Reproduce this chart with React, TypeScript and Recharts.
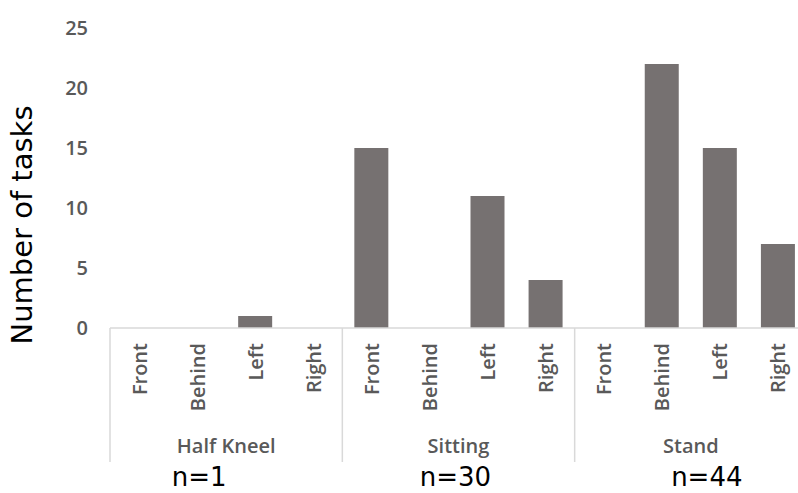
import { BarChart, Bar, XAxis, YAxis } from 'recharts'

const groups = ['Half Kneel', 'Sitting', 'Stand']
const directions = ['Front', 'Behind', 'Left', 'Right']
const halfKneel = [0, 0, 1, 0]
const sitting = [15, 0, 11, 4]
const stand = [0, 22, 15, 7]
const nLabels = ['n=1', 'n=30', 'n=44']
const yTicks = [0, 5, 10, 15, 20, 25]

const seriesByGroup = [halfKneel, sitting, stand]

const data = groups.flatMap((g, gi) =>
  directions.map((d, di) => ({
    key: `${g}-${d}`,
    group: g,
    direction: d,
    tasks: seriesByGroup[gi][di],
  }))
)

// layout
const CHART_W = 810
const CHART_H = 493
const Y_AXIS_W = 110
const RIGHT = 3
const BAND = (CHART_W - Y_AXIS_W - RIGHT) / data.length
const nOffsets = [-27, -3, 16]

const grey = '#595959'
const lineGrey = '#d9d9d9'
const tickFont = "'Open Sans', sans-serif"

function CategoryTick(props: any) {
  const { x, y, payload } = props
  const i: number = payload.index
  const gi = Math.floor(i / directions.length)
  const ty = y + 15
  return (
    <g>
      <text
        x={x}
        y={ty}
        transform={`rotate(-90 ${x} ${ty})`}
        textAnchor="end"
        dominantBaseline="central"
        fill={grey}
        fontSize={20}
        fontWeight={600}
        fontFamily={tickFont}
      >
        {directions[i % directions.length]}
      </text>
      {i % directions.length === 0 && (
        <>
          <line x1={x - BAND / 2} x2={x - BAND / 2} y1={y} y2={y + 134} stroke={lineGrey} strokeWidth={1.5} />
          <text
            x={x + 1.5 * BAND}
            y={453}
            textAnchor="middle"
            fill={grey}
            fontSize={20}
            fontWeight={600}
            fontFamily={tickFont}
          >
            {groups[gi]}
          </text>
          <text
            x={x + 1.5 * BAND + nOffsets[gi]}
            y={486}
            textAnchor="middle"
            fill="#000"
            fontSize={26}
            fontFamily="'DejaVu Sans', Verdana, sans-serif"
          >
            {nLabels[gi]}
          </text>
        </>
      )}
      {i === data.length - 1 && (
        <line x1={x + BAND / 2} x2={x + BAND / 2} y1={y} y2={y + 134} stroke={lineGrey} strokeWidth={1.5} />
      )}
    </g>
  )
}

export default function App() {
  return (
    <div
      style={{
        position: 'fixed',
        left: 0,
        top: 0,
        width: 798,
        height: 493,
        overflow: 'hidden',
        background: '#fff',
      }}
    >
      <BarChart
        width={CHART_W}
        height={CHART_H}
        data={data}
        margin={{ top: 28, right: RIGHT, bottom: 0, left: 0 }}
      >
        <XAxis
          dataKey="key"
          height={165}
          interval={0}
          tickLine={false}
          tickSize={0}
          tickMargin={0}
          axisLine={{ stroke: lineGrey, strokeWidth: 1.5 }}
          tick={CategoryTick}
        />
        <YAxis
          width={Y_AXIS_W}
          domain={[0, 25]}
          ticks={yTicks}
          axisLine={false}
          tickLine={false}
          tickSize={0}
          tickMargin={22}
          tick={{ fill: grey, fontSize: 20, fontWeight: 600, fontFamily: tickFont }}
          label={{
            content: () => (
              <text
                x={22}
                y={225}
                transform="rotate(-90 22 225)"
                textAnchor="middle"
                dominantBaseline="central"
                fill="#000"
                fontSize={29}
                fontFamily="'DejaVu Sans', Verdana, sans-serif"
              >
                Number of tasks
              </text>
            ),
          }}
        />
        <Bar dataKey="tasks" fill="#767171" barSize={34} isAnimationActive={false} />
      </BarChart>
    </div>
  )
}
